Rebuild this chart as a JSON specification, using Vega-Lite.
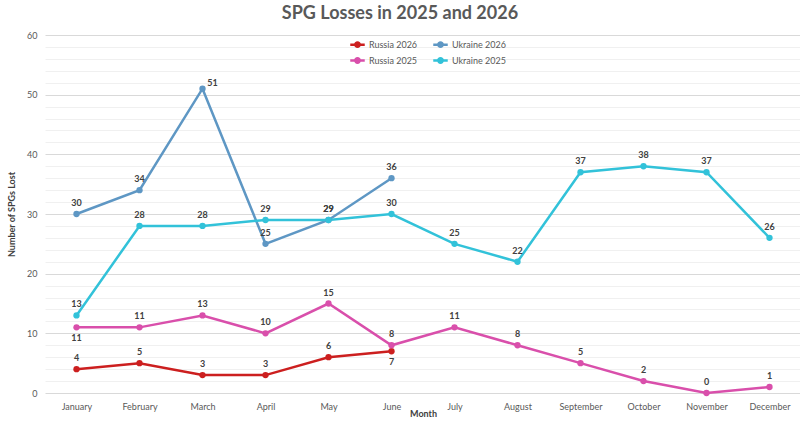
{
  "$schema": "https://vega.github.io/schema/vega-lite/v6.json",
  "width": 756,
  "height": 358,
  "autosize": {"type": "none"},
  "padding": {"left": 45, "top": 35, "right": 0, "bottom": 29},
  "background": "white",
  "config": {
    "font": "Lato",
    "view": {"stroke": null},
    "axis": {"labelFont": "Lato", "titleFont": "Lato"}
  },
  "title": {
    "text": "SPG Losses in 2025 and 2026",
    "fontSize": 18,
    "fontWeight": "bold",
    "color": "#595959",
    "font": "Lato",
    "anchor": "middle",
    "dx": -23,
    "offset": 8
  },
  "data": {
    "values": [
      {"month": "January", "series": "Russia 2026", "value": 4},
      {"month": "February", "series": "Russia 2026", "value": 5},
      {"month": "March", "series": "Russia 2026", "value": 3},
      {"month": "April", "series": "Russia 2026", "value": 3},
      {"month": "May", "series": "Russia 2026", "value": 6},
      {"month": "June", "series": "Russia 2026", "value": 7},
      {"month": "January", "series": "Ukraine 2026", "value": 30},
      {"month": "February", "series": "Ukraine 2026", "value": 34},
      {"month": "March", "series": "Ukraine 2026", "value": 51},
      {"month": "April", "series": "Ukraine 2026", "value": 25},
      {"month": "May", "series": "Ukraine 2026", "value": 29},
      {"month": "June", "series": "Ukraine 2026", "value": 36},
      {"month": "January", "series": "Russia 2025", "value": 11},
      {"month": "February", "series": "Russia 2025", "value": 11},
      {"month": "March", "series": "Russia 2025", "value": 13},
      {"month": "April", "series": "Russia 2025", "value": 10},
      {"month": "May", "series": "Russia 2025", "value": 15},
      {"month": "June", "series": "Russia 2025", "value": 8},
      {"month": "July", "series": "Russia 2025", "value": 11},
      {"month": "August", "series": "Russia 2025", "value": 8},
      {"month": "September", "series": "Russia 2025", "value": 5},
      {"month": "October", "series": "Russia 2025", "value": 2},
      {"month": "November", "series": "Russia 2025", "value": 0},
      {"month": "December", "series": "Russia 2025", "value": 1},
      {"month": "January", "series": "Ukraine 2025", "value": 13},
      {"month": "February", "series": "Ukraine 2025", "value": 28},
      {"month": "March", "series": "Ukraine 2025", "value": 28},
      {"month": "April", "series": "Ukraine 2025", "value": 29},
      {"month": "May", "series": "Ukraine 2025", "value": 29},
      {"month": "June", "series": "Ukraine 2025", "value": 30},
      {"month": "July", "series": "Ukraine 2025", "value": 25},
      {"month": "August", "series": "Ukraine 2025", "value": 22},
      {"month": "September", "series": "Ukraine 2025", "value": 37},
      {"month": "October", "series": "Ukraine 2025", "value": 38},
      {"month": "November", "series": "Ukraine 2025", "value": 37},
      {"month": "December", "series": "Ukraine 2025", "value": 26}
    ]
  },
  "encoding": {
    "x": {
      "field": "month",
      "type": "ordinal",
      "sort": ["January", "February", "March", "April", "May", "June", "July", "August", "September", "October", "November", "December"],
      "scale": {"type": "point", "padding": 0.5},
      "axis": {
        "title": "Month",
        "titleFontSize": 9,
        "titleFontWeight": "bold",
        "titleColor": "#404040",
        "titlePadding": -2,
        "labelAngle": 0,
        "labelFontSize": 9,
        "labelColor": "#595959",
        "labelPadding": 9,
        "domain": false,
        "ticks": false,
        "grid": false
      }
    },
    "y": {
      "field": "value",
      "type": "quantitative",
      "scale": {"domain": [0, 60], "nice": false},
      "axis": {
        "title": "Number of SPGs Lost",
        "titleFontSize": 9,
        "titleFontWeight": "bold",
        "titleColor": "#404040",
        "titlePadding": 10,
        "values": [0, 2, 4, 6, 8, 10, 12, 14, 16, 18, 20, 22, 24, 26, 28, 30, 32, 34, 36, 38, 40, 42, 44, 46, 48, 50, 52, 54, 56, 58, 60],
        "labelExpr": "datum.value % 10 === 0 ? datum.label : ''",
        "labelFontSize": 9,
        "labelColor": "#595959",
        "labelPadding": 8,
        "domain": false,
        "ticks": false,
        "grid": true,
        "gridColor": {"condition": {"test": "datum.value % 10 === 0", "value": "#d9d9d9"}, "value": "#f0f0f0"},
        "gridWidth": 1
      }
    },
    "color": {
      "field": "series",
      "type": "nominal",
      "scale": {
        "domain": ["Russia 2026", "Russia 2025", "Ukraine 2026", "Ukraine 2025"],
        "range": ["#cc1f1f", "#d94fab", "#5e97c4", "#32c2d9"]
      },
      "legend": {
        "title": null,
        "orient": "none",
        "legendX": 304,
        "legendY": 1,
        "columns": 2,
        "columnPadding": 10,
        "rowPadding": 0,
        "labelFontSize": 9,
        "labelColor": "#595959",
        "symbolType": "M-1,0L1,0M0.3,0A0.3,0.3 0 1 1 -0.3,0A0.3,0.3 0 1 1 0.3,0Z",
        "symbolSize": 210,
        "symbolStrokeWidth": 2.5,
        "labelOffset": 3
      }
    }
  },
  "layer": [
    {
      "mark": {"type": "line", "strokeWidth": 2.5, "point": {"size": 40, "filled": true}}
    },
    {
      "transform": [
        {"filter": "!(datum.series === 'Russia 2025' && datum.month === 'January') && !(datum.series === 'Russia 2026' && datum.month === 'June') && !(datum.series === 'Ukraine 2026' && datum.month === 'March')"}
      ],
      "mark": {"type": "text", "dy": -11, "fontSize": 9, "fontWeight": "bold", "color": "#404040"},
      "encoding": {"text": {"field": "value", "type": "quantitative"}, "color": {"value": "#404040"}}
    },
    {
      "transform": [
        {"filter": "(datum.series === 'Russia 2025' && datum.month === 'January') || (datum.series === 'Russia 2026' && datum.month === 'June')"}
      ],
      "mark": {"type": "text", "dy": 11, "fontSize": 9, "fontWeight": "bold", "color": "#404040"},
      "encoding": {"text": {"field": "value", "type": "quantitative"}, "color": {"value": "#404040"}}
    },
    {
      "transform": [
        {"filter": "datum.series === 'Ukraine 2026' && datum.month === 'March'"}
      ],
      "mark": {"type": "text", "dx": 10, "dy": -6, "fontSize": 9, "fontWeight": "bold", "color": "#404040"},
      "encoding": {"text": {"field": "value", "type": "quantitative"}, "color": {"value": "#404040"}}
    }
  ]
}
